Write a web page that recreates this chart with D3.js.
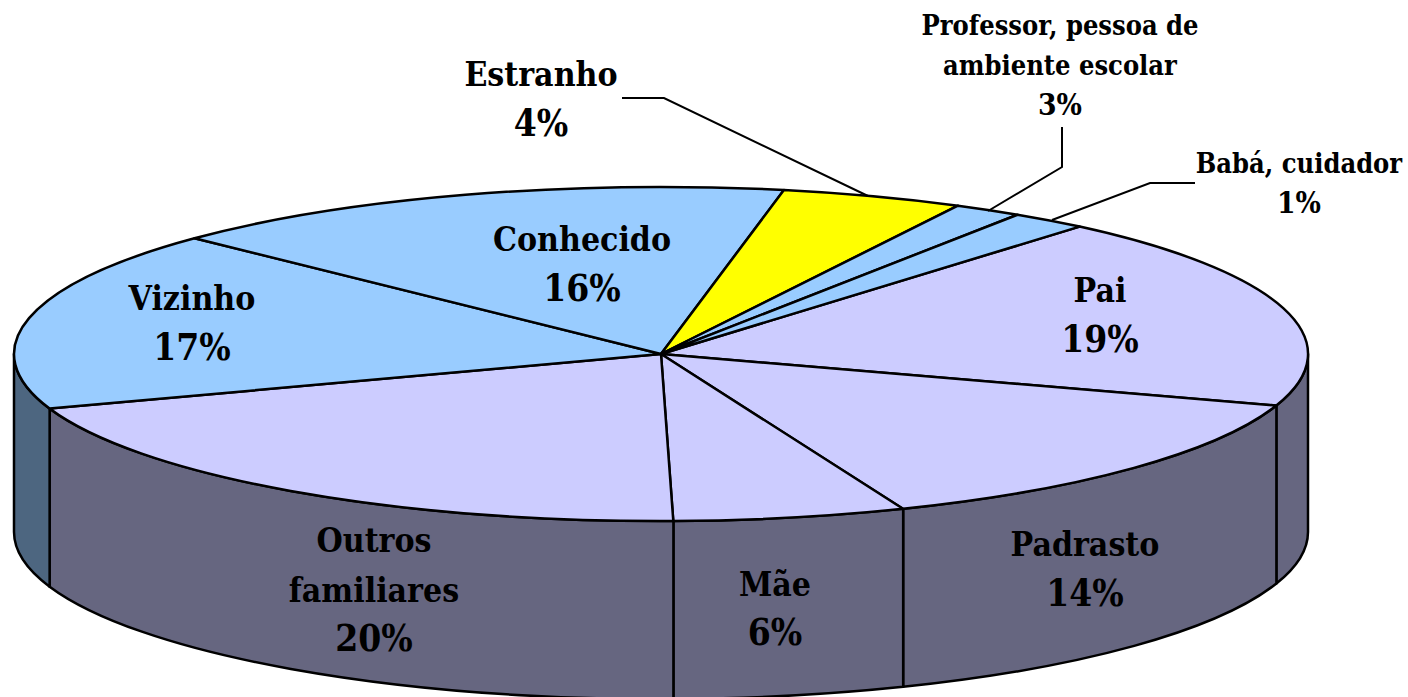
<html>
<script src="https://d3js.org/d3.v7.min.js"></script>
<style>
body { margin: 0; background: white; overflow: hidden; }
text { font-family: "DejaVu Serif", serif; font-weight: bold; font-stretch: condensed; fill: black; text-anchor: middle; }
</style>
<body>
<svg width="1408" height="697"></svg>
<script>
// slices clockwise starting from "Pai"
const categories = ["Pai", "Padrasto", "Mãe", "Outros familiares", "Vizinho", "Conhecido", "Estranho", "Professor, pessoa de ambiente escolar", "Babá, cuidador"];
const sliceValues = [18.8, 13.9, 5.8, 20.0, 17.5, 15.85, 4.55, 1.7, 1.9];
const percentLabels = ["19%", "14%", "6%", "20%", "17%", "16%", "4%", "3%", "1%"];
const topColors = ["#ccccff", "#ccccff", "#ccccff", "#ccccff", "#99ccff", "#99ccff", "#ffff00", "#99ccff", "#99ccff"];

const cx = 661, cy = 354, rx = 647, ry = 167, depth = 178;
const startDeg = 40.3;

const svg = d3.select("svg");
const x = d3.scaleLinear().domain([-1, 1]).range([cx - rx, cx + rx]);
const y = d3.scaleLinear().domain([-1, 1]).range([cy - ry, cy + ry]);

const pie = d3.pie().sort(null)
    .startAngle(startDeg * Math.PI / 180)
    .endAngle((startDeg + 360) * Math.PI / 180);
const slices = pie(sliceValues);

const px = a => x(Math.sin(a));
const py = a => y(-Math.cos(a));

// the visible wall runs from 90deg to 270deg (clockwise from top)
function wallPath(a0, a1) {
    return `M${px(a0)},${py(a0)} A${rx},${ry} 0 0 1 ${px(a1)},${py(a1)}`
        + ` L${px(a1)},${py(a1) + depth} A${rx},${ry} 0 0 0 ${px(a0)},${py(a0) + depth} Z`;
}
const walls = [];
slices.forEach((s, i) => {
    [0, 2 * Math.PI].forEach(shift => {
        const a0 = Math.max(s.startAngle - shift, Math.PI / 2);
        const a1 = Math.min(s.endAngle - shift, 3 * Math.PI / 2);
        if (a1 > a0) walls.push({a0: a0, a1: a1, color: i == 4 ? "#4d6680" : "#666680"});
    });
});

svg.append("g").selectAll("path")
    .data(walls)
    .enter()
    .append("path")
    .attr("d", d => wallPath(d.a0, d.a1))
    .attr("fill", d => d.color)
    .attr("stroke", "black")
    .attr("stroke-width", 2.5)
    .attr("stroke-linejoin", "round");

const arc = d3.arc().innerRadius(0).outerRadius(1);
svg.append("g")
    .attr("transform", `translate(${cx},${cy}) scale(${rx},${ry})`)
    .selectAll("path")
    .data(slices)
    .enter()
    .append("path")
    .attr("d", arc)
    .attr("fill", (d, i) => topColors[i])
    .attr("stroke", "black")
    .attr("stroke-width", 2.5)
    .attr("stroke-linejoin", "round")
    .attr("vector-effect", "non-scaling-stroke");

// leader lines
const leaders = [
    [[622, 98], [664, 98], [868, 196]],
    [[1062, 127], [1062, 167], [988, 211]],
    [[1195, 183], [1150, 183], [1052, 220]]
];
svg.append("g").selectAll("path")
    .data(leaders)
    .enter()
    .append("path")
    .attr("d", d3.line())
    .attr("fill", "none")
    .attr("stroke", "black")
    .attr("stroke-width", 2);

// labels: lines, center x, first baseline, line height, size
const labelLayout = [
    {i: 0, lines: ["Pai"], x: 1100, y: 302, lh: 50, size: 33.5},
    {i: 1, lines: ["Padrasto"], x: 1085, y: 556, lh: 50, size: 33.5},
    {i: 2, lines: ["Mãe"], x: 775, y: 596, lh: 49, size: 33.5},
    {i: 3, lines: ["Outros", "familiares"], x: 374, y: 552, lh: 49.5, size: 33.5},
    {i: 4, lines: ["Vizinho"], x: 192, y: 310, lh: 50, size: 33.5},
    {i: 5, lines: ["Conhecido"], x: 582, y: 251, lh: 50, size: 33.5},
    {i: 6, lines: ["Estranho"], x: 541, y: 86, lh: 50, size: 33.5},
    {i: 7, lines: ["Professor, pessoa de", "ambiente escolar"], x: 1060, y: 35, lh: 40, size: 27},
    {i: 8, lines: ["Babá, cuidador"], x: 1299, y: 173, lh: 40, size: 27}
];
const labels = svg.append("g").selectAll("text")
    .data(labelLayout)
    .enter()
    .append("text")
    .attr("font-size", d => d.size)
    .attr("y", d => d.y);
labels.selectAll("tspan")
    .data(d => d.lines.concat([percentLabels[d.i]]).map((t, k) => ({t: t, k: k, d: d})))
    .enter()
    .append("tspan")
    .attr("x", e => e.d.x)
    .attr("dy", e => e.k == 0 ? 0 : e.d.lh)
    .attr("font-size", e => e.k == e.d.lines.length ? e.d.size * 1.1 : e.d.size)
    .text(e => e.t);
</script>
</body>
</html>
